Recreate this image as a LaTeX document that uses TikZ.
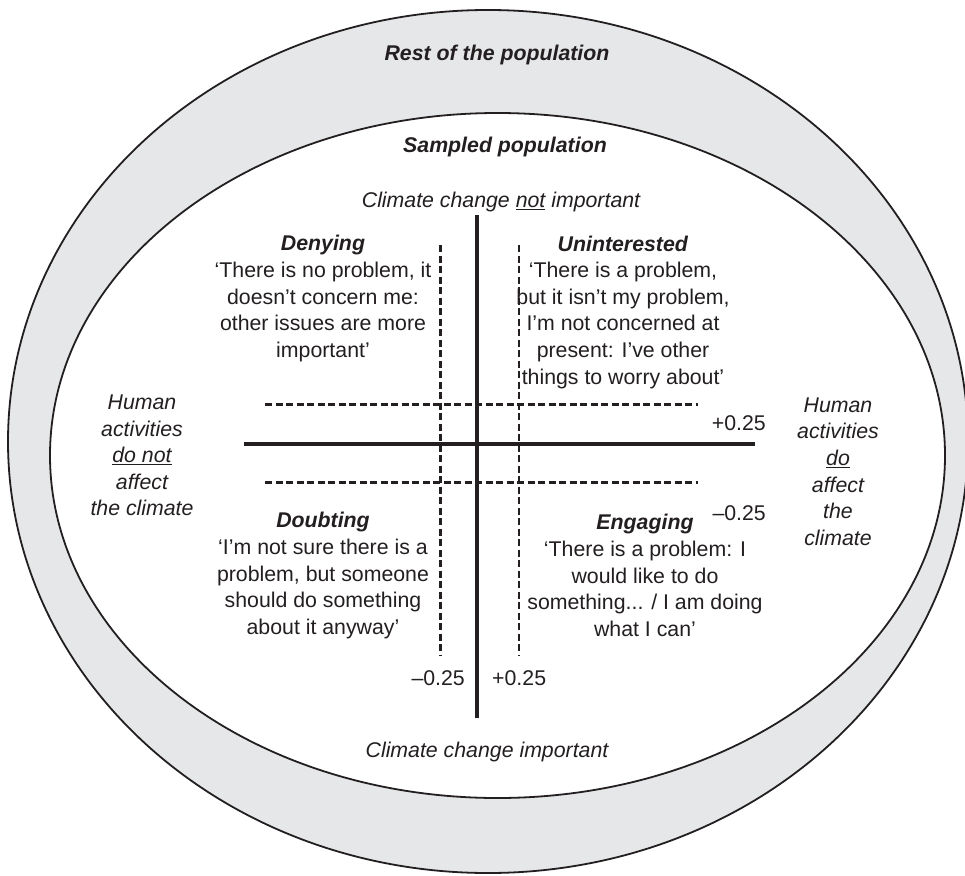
\documentclass[tikz,border=0pt]{standalone}
\usepackage{fontspec}
\setmainfont{Liberation Sans}
\definecolor{band}{HTML}{E6E7E9}
\definecolor{ink}{HTML}{231F20}
\tikzset{
  txt/.style={inner sep=0pt, align=center, text=ink, font=\fontsize{21.3}{26.6}\selectfont},
  lbl/.style={txt, font=\fontsize{21.3}{26.6}\selectfont\itshape},
  ttl/.style={txt, font=\fontsize{21.3}{26.6}\selectfont\bfseries\itshape},
  rim/.style={draw=ink, line width=1.8pt},
  axis/.style={draw=ink, line width=4pt},
  split/.style={draw=ink, line width=2.5pt, dash pattern=on 7pt off 3.5pt},
}
\begin{document}
\begin{tikzpicture}[x=1pt,y=-1pt]
\useasboundingbox (0,0) rectangle (965,875);
\clip (0,0) rectangle (965,875);
\fill[white] (0,0) rectangle (965,875);
% ellipses
\path[rim, fill=band] (488,441.5) ellipse [x radius=480, y radius=431.5];
\path[rim, fill=white] (497.5,455.5) ellipse [x radius=447.5, y radius=342.5];
% coordinates of axes
\coordinate (vt) at (477.3,215);
\coordinate (vb) at (477.3,718);
\coordinate (hl) at (244,443.5);
\coordinate (hr) at (755,443.5);
\coordinate (d1t) at (440.7,245);
\coordinate (d1b) at (440.7,655);
\coordinate (d2t) at (519,245);
\coordinate (d2b) at (519,655);
\coordinate (h1l) at (265,404.3);
\coordinate (h1r) at (698,404.3);
\coordinate (h2l) at (265,482.7);
\coordinate (h2r) at (698,482.7);
% dashed lines
\path[split] (d1t) -- (d1b);
\path[split] (d2t) -- (d2b);
\path[split] (h1l) -- (h1r);
\path[split] (h2l) -- (h2r);
% solid axes
\path[axis] (vt) -- (vb);
\path[axis] (hl) -- (hr);
% titles
\node[ttl] (rest) at (497,55) {Rest of the population};
\node[ttl] (samp) at (505,147) {Sampled population};
\node[lbl] (top) at (501,202) {Climate change \underline{not} important};
\node[lbl] (bot) at (487,752) {Climate change important};
\node[lbl] (left) at (142,455.5) {Human\\activities\\\underline{do not}\\affect\\the climate};
\node[lbl] (right) at (838,471.5) {Human\\activities\\\underline{do}\\affect\\the\\climate};
% quadrants
\node[txt] (deny) at (323,298.5) {\textbf{\textit{Denying}}\\‘There is no problem, it\\doesn’t concern me:\\other issues are more\\important’};
\node[txt] (unint) at (623,312) {\textbf{\textit{Uninterested}}\\‘There is a problem,\\but it isn’t my problem,\\I’m not concerned at\\present: I’ve other\\things to worry about’};
\node[txt] (doubt) at (323,575.5) {\textbf{\textit{Doubting}}\\‘I’m not sure there is a\\problem, but someone\\should do something\\about it anyway’};
\node[txt] (engage) at (645,575.5) {\textbf{\textit{Engaging}}\\‘There is a problem: I\\would like to do\\something... / I am doing\\what I can’};
% scale values
\node[txt, anchor=east] (rp) at (766,423) {+0.25};
\node[txt, anchor=east] (rm) at (766,513) {–0.25};
\node[txt, anchor=east] (bm) at (465,678) {–0.25};
\node[txt, anchor=west] (bp) at (492,678) {+0.25};
\end{tikzpicture}
\end{document}
